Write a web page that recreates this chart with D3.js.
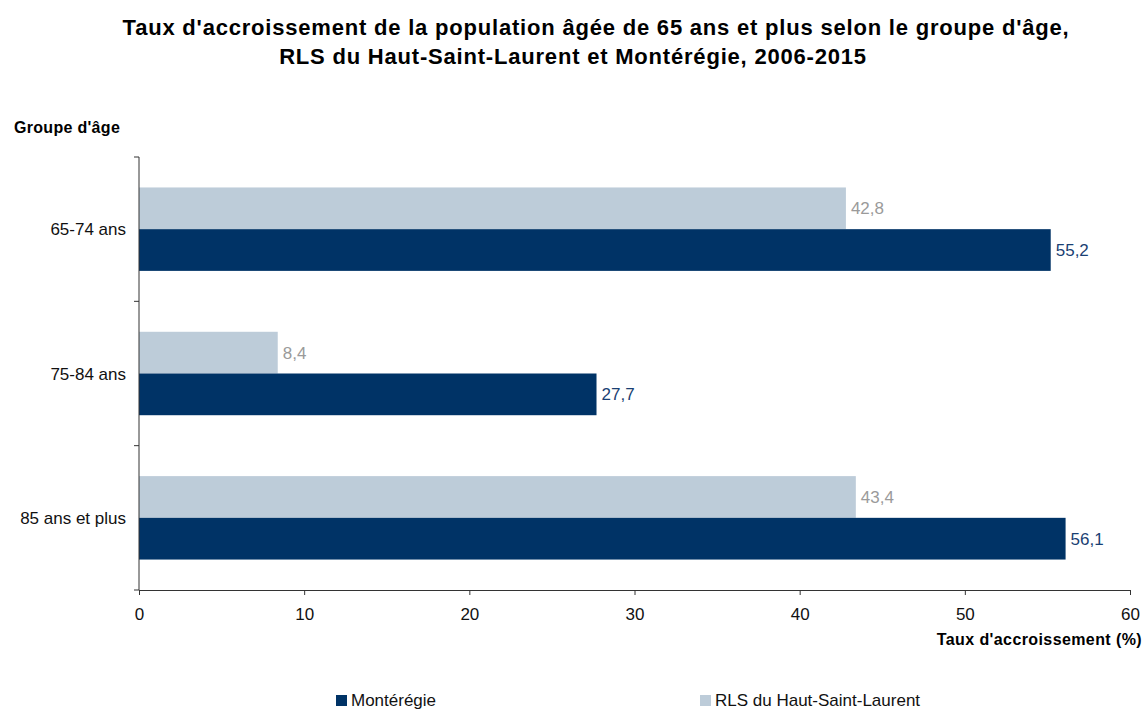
<!DOCTYPE html>
<html>
<head>
<meta charset="utf-8">
<script src="https://cdn.jsdelivr.net/npm/d3@7"></script>
<style>
  body { margin: 0; background: #fff; font-family: "Liberation Sans", Arial, sans-serif; }
  svg text { font-family: "Liberation Sans", Arial, sans-serif; }
</style>
</head>
<body>
<div id="chart"></div>
<script>
// taux d'accroissement 2006-2015

const groupes = ["65-74 ans", "75-84 ans", "85 ans et plus"]
const series = ["RLS du Haut-Saint-Laurent", "Montérégie"]
const valeursRLS = [42.8, 8.4, 43.4]
const valeursMonteregie = [55.2, 27.7, 56.1]
const xTicks = [0, 10, 20, 30, 40, 50, 60]

const couleurs = { "RLS du Haut-Saint-Laurent": "#bdccd9", "Montérégie": "#003366" }
const couleursTexte = { "RLS du Haut-Saint-Laurent": "#9a9a9a", "Montérégie": "#1a3f73" }

let width = 1145
let height = 709
let margin = { top: 157, left: 139, right: 15, bottom: 119 }

var svg = d3.select("#chart")
    .append("svg")
    .attr("width", width)
    .attr("height", height)

// titre
svg.append("text")
    .attr("x", 596).attr("y", 35)
    .attr("text-anchor", "middle")
    .style("font-size", "22px").style("font-weight", "bold")
    .style("letter-spacing", "0.8px")
    .text("Taux d'accroissement de la population âgée de 65 ans et plus selon le groupe d'âge,")
svg.append("text")
    .attr("x", 573).attr("y", 64)
    .attr("text-anchor", "middle")
    .style("font-size", "22px").style("font-weight", "bold")
    .style("letter-spacing", "0.8px")
    .text("RLS du Haut-Saint-Laurent et Montérégie, 2006-2015")

var x = d3.scaleLinear()
    .domain([0, 60])
    .range([margin.left, width - margin.right])

var y = d3.scaleBand()
    .domain(groupes)
    .range([margin.top, height - margin.bottom])

var ySub = d3.scaleBand()
    .domain(series)
    .range([0, y.bandwidth()])
    .paddingOuter(0.73)

let data = groupes.map((g, i) => ({
    groupe: g,
    values: [
        { serie: series[0], value: valeursRLS[i] },
        { serie: series[1], value: valeursMonteregie[i] }
    ]
}))

var groups = svg.selectAll("g.groupe")
    .data(data)
    .enter()
    .append("g")
    .attr("class", "groupe")
    .attr("transform", d => "translate(0," + y(d.groupe) + ")")

groups.selectAll("rect")
    .data(d => d.values)
    .enter()
    .append("rect")
    .attr("x", x(0))
    .attr("y", d => ySub(d.serie))
    .attr("width", d => x(d.value) - x(0))
    .attr("height", ySub.bandwidth())
    .attr("fill", d => couleurs[d.serie])

groups.selectAll("text.val")
    .data(d => d.values)
    .enter()
    .append("text")
    .attr("class", "val")
    .attr("x", d => x(d.value) + 5)
    .attr("y", d => ySub(d.serie) + ySub.bandwidth() / 2 + 6)
    .style("font-size", "17px")
    .attr("fill", d => couleursTexte[d.serie])
    .text(d => d3.format(".1f")(d.value).replace(".", ","))

// axe x
var xAxis = svg.append("g")
    .attr("transform", "translate(0," + (height - margin.bottom) + ")")
    .call(d3.axisBottom(x).tickValues(xTicks).tickSize(5).tickSizeOuter(0).tickPadding(13))
xAxis.select(".domain").attr("stroke", "#333")
xAxis.selectAll(".tick line").attr("stroke", "#333")
xAxis.selectAll(".tick text").style("font-size", "17px").attr("fill", "#111")

// axe y
var yTickPos = d3.range(groupes.length + 1).map(i => margin.top + i * y.step())
var yAxis = svg.append("g")
yAxis.append("line")
    .attr("x1", margin.left).attr("x2", margin.left)
    .attr("y1", margin.top).attr("y2", height - margin.bottom)
    .attr("stroke", "#333")
yAxis.selectAll("line.tick")
    .data(yTickPos)
    .enter()
    .append("line")
    .attr("class", "tick")
    .attr("x1", margin.left - 5).attr("x2", margin.left)
    .attr("y1", d => d).attr("y2", d => d)
    .attr("stroke", "#333")
yAxis.selectAll("text")
    .data(groupes)
    .enter()
    .append("text")
    .attr("x", margin.left - 13)
    .attr("y", d => y(d) + ySub(series[1]) + 6)
    .attr("text-anchor", "end")
    .style("font-size", "17px")
    .attr("fill", "#111")
    .text(d => d)

// titres des axes
svg.append("text")
    .attr("x", 14).attr("y", 133)
    .style("font-size", "16px").style("font-weight", "bold")
    .style("letter-spacing", "0.3px")
    .text("Groupe d'âge")
svg.append("text")
    .attr("x", 1142).attr("y", 645)
    .attr("text-anchor", "end")
    .style("font-size", "16px").style("font-weight", "bold")
    .style("letter-spacing", "0.4px")
    .text("Taux d'accroissement (%)")

// légende
const legendItems = [
    { serie: "Montérégie", x: 336 },
    { serie: "RLS du Haut-Saint-Laurent", x: 700 }
]
const legend = svg.append("g")
legend.selectAll("rect")
    .data(legendItems)
    .enter()
    .append("rect")
    .attr("x", d => d.x).attr("y", 695)
    .attr("width", 11).attr("height", 11)
    .attr("fill", d => couleurs[d.serie])
legend.selectAll("text")
    .data(legendItems)
    .enter()
    .append("text")
    .attr("x", d => d.x + 15).attr("y", 706)
    .style("font-size", "17px")
    .attr("fill", "#111")
    .text(d => d.serie)
</script>
</body>
</html>
